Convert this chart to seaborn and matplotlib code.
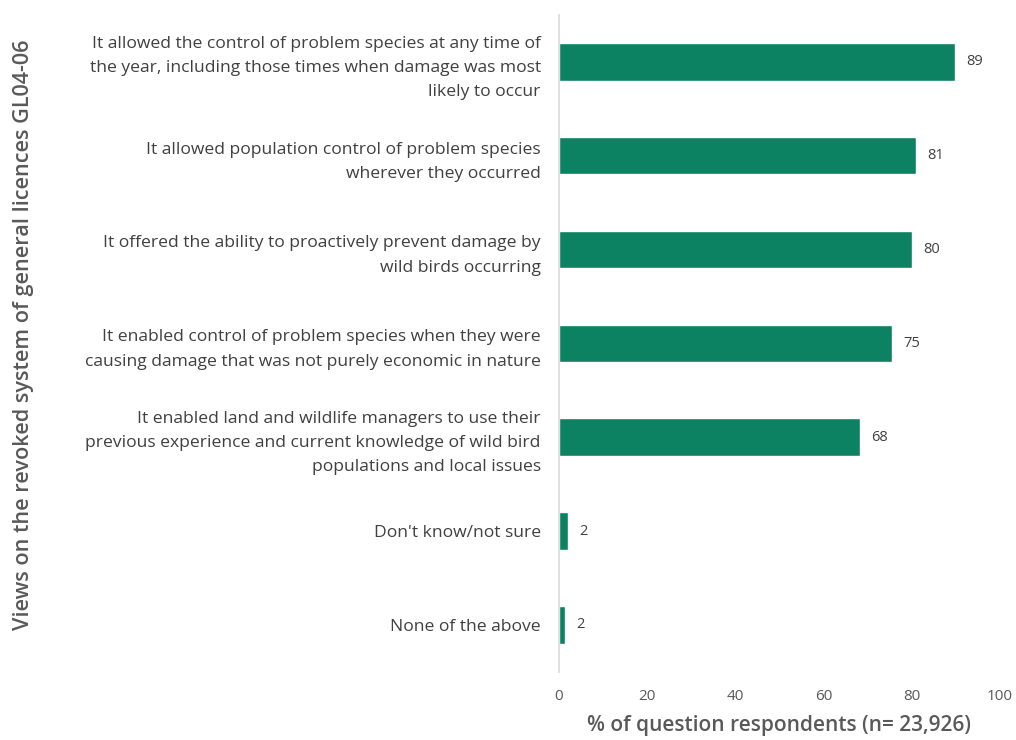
import matplotlib
matplotlib.use("Agg")
import matplotlib.pyplot as plt
import seaborn as sns
import pandas as pd

categories = [
    "It allowed the control of problem species at any time of\nthe year, including those times when damage was most\nlikely to occur",
    "It allowed population control of problem species\nwherever they occurred",
    "It offered the ability to proactively prevent damage by\nwild birds occurring",
    "It enabled control of problem species when they were\ncausing damage that was not purely economic in nature",
    "It enabled land and wildlife managers to use their\nprevious experience and current knowledge of wild bird\npopulations and local issues",
    "Don't know/not sure",
    "None of the above",
]
values = [89.8, 81.0, 80.0, 75.6, 68.3, 2.0, 1.4]
labels = ["89", "81", "80", "75", "68", "2", "2"]
xticks = [0, 20, 40, 60, 80, 100]

sns.set_theme(style="white")
plt.rcParams['font.family'] = ['Open Sans', 'DejaVu Sans']

df = pd.DataFrame({"cat": categories, "val": values})

fig = plt.figure(figsize=(10.16, 7.4), dpi=100)
ax = fig.add_axes([0.55, 0.092, 0.434, 0.888])
sns.barplot(data=df, y="cat", x="val", color="#0c8263", width=0.4, ax=ax,
            orient="h", saturation=1)

for p, lab in zip(ax.patches, labels):
    ax.text(p.get_width() + 2.6, p.get_y() + p.get_height() / 2, lab,
            va="center", ha="left", fontsize=10.5, color="#404040")

ax.set_xlim(0, 100)
ax.set_xticks(xticks)
ax.set_xticklabels([str(t) for t in xticks], fontsize=11, color="#595959")
ax.tick_params(axis="x", length=0, pad=12)
ax.tick_params(axis="y", length=0, pad=13)
for t in ax.get_yticklabels():
    t.set_fontsize(12.6)
    t.set_color("#404040")
    t.set_ha("right")
    t.set_multialignment("right")
    t.set_linespacing(1.68)

ax.set_xlabel("% of question respondents (n= 23,926)", fontsize=15,
              color="#595959", fontweight="semibold", labelpad=8)
ax.set_ylabel("Views on the revoked system of general licences GL04-06",
              fontsize=15.6, color="#595959", fontweight="semibold")
ax.yaxis.set_label_coords(-1.19, 0.513)

for s in ["top", "right", "bottom"]:
    ax.spines[s].set_visible(False)
ax.spines["left"].set_color("#d9d9d9")
ax.spines["left"].set_linewidth(1.2)
ax.grid(False)

fig.savefig("out.png", dpi=100)
